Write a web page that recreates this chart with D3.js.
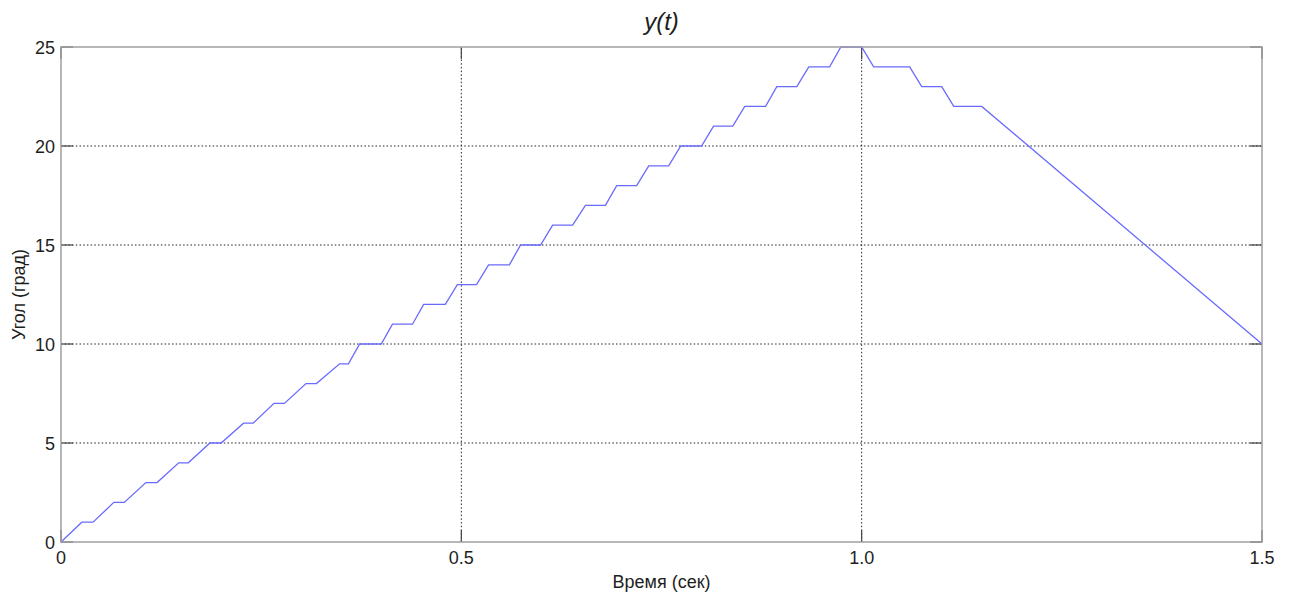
<!DOCTYPE html>
<meta charset="utf-8">
<style>
  body { margin: 0; background: #fff; }
  text { font-family: "Liberation Sans", Arial, sans-serif; fill: #1e1e1e; }
  .grid line { stroke: #222; stroke-width: 1; stroke-dasharray: 1.5,2.2; }
  .frame { fill: none; stroke: #a0a0a0; stroke-width: 1.5; }
  .tick-mark { stroke: #444; stroke-width: 1.2; }
</style>
<svg width="1290" height="595"></svg>
<script src="https://d3js.org/d3.v7.min.js"></script>
<script>
// breakpoints of y(t)
var tVals = [0, 0.026, 0.040, 0.066, 0.079, 0.106, 0.120, 0.147, 0.159, 0.186, 0.200,
             0.228, 0.240, 0.266, 0.279, 0.306, 0.319, 0.348, 0.359, 0.373, 0.400,
             0.414, 0.439, 0.453, 0.480, 0.495, 0.519, 0.534, 0.560, 0.574, 0.599,
             0.614, 0.639, 0.655, 0.680, 0.694, 0.719, 0.734, 0.759, 0.774, 0.800,
             0.815, 0.839, 0.854, 0.880, 0.894, 0.919, 0.934, 0.960, 0.974, 1.000,
             1.015, 1.060, 1.075, 1.100, 1.115, 1.150, 1.500];
var yVals = [0, 1, 1, 2, 2, 3, 3, 4, 4, 5, 5,
             6, 6, 7, 7, 8, 8, 9, 9, 10, 10,
             11, 11, 12, 12, 13, 13, 14, 14, 15, 15,
             16, 16, 17, 17, 18, 18, 19, 19, 20, 20,
             21, 21, 22, 22, 23, 23, 24, 24, 25, 25,
             24, 24, 23, 23, 22, 22, 10];

var xTicks = [0, 0.5, 1.0, 1.5];
var xTickLabels = ["0", "0.5", "1.0", "1.5"];
var yTicks = [0, 5, 10, 15, 20, 25];

var margin = { left: 61, right: 28, top: 47, bottom: 53 };
var width = 1290, height = 595;

var svg = d3.select("svg");

var x = d3.scaleLinear().domain([0, 1.5]).range([margin.left, width - margin.right]);
var y = d3.scaleLinear().domain([0, 25]).range([height - margin.bottom, margin.top]);

// grid
var grid = svg.append("g").attr("class", "grid");
grid.selectAll(".gx")
    .data(xTicks.slice(1, -1))
    .enter().append("line")
    .attr("x1", function(d) { return x(d); })
    .attr("x2", function(d) { return x(d); })
    .attr("y1", y(0))
    .attr("y2", y(25));
grid.selectAll(".gy")
    .data(yTicks.slice(1, -1))
    .enter().append("line")
    .attr("x1", x(0))
    .attr("x2", x(1.5))
    .attr("y1", function(d) { return y(d); })
    .attr("y2", function(d) { return y(d); });

// inward tick marks, all four sides
var tl = 12;
var ticks = svg.append("g");
xTicks.forEach(function(d) {
  ticks.append("line").attr("class", "tick-mark")
      .attr("x1", x(d)).attr("x2", x(d)).attr("y1", y(0)).attr("y2", y(0) - tl);
  ticks.append("line").attr("class", "tick-mark")
      .attr("x1", x(d)).attr("x2", x(d)).attr("y1", y(25)).attr("y2", y(25) + tl);
});
yTicks.forEach(function(d) {
  ticks.append("line").attr("class", "tick-mark")
      .attr("x1", x(0)).attr("x2", x(0) + tl).attr("y1", y(d)).attr("y2", y(d));
  ticks.append("line").attr("class", "tick-mark")
      .attr("x1", x(1.5)).attr("x2", x(1.5) - tl).attr("y1", y(d)).attr("y2", y(d));
});

// the signal
var line = d3.line()
    .x(function(d, i) { return x(tVals[i]); })
    .y(function(d) { return y(d); });

svg.append("path")
    .datum(yVals)
    .attr("fill", "none")
    .attr("stroke", "#6a6aff")
    .attr("stroke-width", 1.3)
    .attr("d", line);

// box
svg.append("rect").attr("class", "frame")
    .attr("x", x(0)).attr("y", y(25))
    .attr("width", x(1.5) - x(0)).attr("height", y(0) - y(25));

// tick labels
svg.selectAll(".xl")
    .data(xTicks)
    .enter().append("text")
    .attr("x", function(d) { return x(d); })
    .attr("y", y(0) + 22)
    .attr("text-anchor", "middle")
    .style("font-size", "18px")
    .text(function(d, i) { return xTickLabels[i]; });

svg.selectAll(".yl")
    .data(yTicks)
    .enter().append("text")
    .attr("x", x(0) - 6)
    .attr("y", function(d) { return y(d) + 6.5; })
    .attr("text-anchor", "end")
    .style("font-size", "18px")
    .text(function(d) { return d; });

// axis titles
svg.append("text")
    .attr("x", (x(0) + x(1.5)) / 2)
    .attr("y", 588)
    .attr("text-anchor", "middle")
    .style("font-size", "18px")
    .text("Время (сек)");

svg.append("text")
    .attr("transform", "translate(25," + ((y(0) + y(25)) / 2) + ") rotate(-90)")
    .attr("text-anchor", "middle")
    .style("font-size", "18px")
    .text("Угол (град)");

svg.append("text")
    .attr("x", (x(0) + x(1.5)) / 2)
    .attr("y", 30)
    .attr("text-anchor", "middle")
    .style("font-size", "24px")
    .style("font-style", "italic")
    .text("y(t)");
</script>
